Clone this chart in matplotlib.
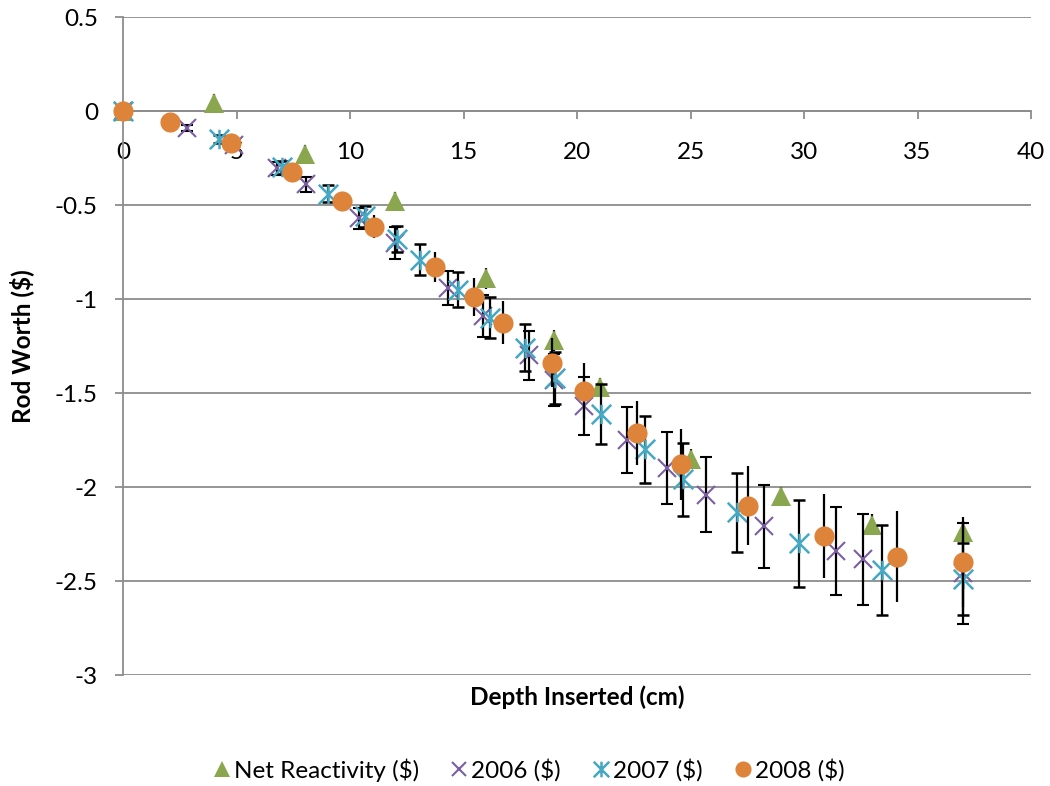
import matplotlib
matplotlib.use("Agg")
import matplotlib.pyplot as plt
from matplotlib.path import Path
from matplotlib.lines import Line2D

plt.rcParams['font.family'] = ['Lato', 'DejaVu Sans']

# ---- data ----
net_x = [0, 4, 8, 12, 16, 19, 21, 25, 29, 33, 37]
net_y = [0, 0.04, -0.23, -0.48, -0.89, -1.22, -1.47, -1.85, -2.05, -2.20, -2.24]
net_err = [0.02, 0.05, 0.05, 0.05, 0.055, 0.055, 0.05, 0.05, 0.05, 0.055, 0.06]

y2006_x = [0, 2.8, 4.9, 6.8, 8.05, 10.4, 12.0, 14.3, 15.85, 17.9, 19.0, 20.3, 22.2,
           23.95, 25.7, 28.25, 31.4, 32.6, 37.0]
y2006_y = [0, -0.09, -0.18, -0.305, -0.39, -0.57, -0.70, -0.94, -1.09, -1.30, -1.43,
           -1.57, -1.75, -1.90, -2.04, -2.21, -2.34, -2.385, -2.46]
y2006_err = [0.01, 0.015, 0.02, 0.035, 0.04, 0.055, 0.085, 0.09, 0.11, 0.13, 0.14,
             0.155, 0.175, 0.19, 0.20, 0.22, 0.235, 0.24, 0.27]

y2007_x = [0, 4.25, 7.0, 9.05, 10.65, 12.05, 13.1, 14.75, 16.15, 17.7, 19.05, 21.05,
           23.0, 24.65, 27.05, 29.8, 33.45, 37.0]
y2007_y = [0, -0.15, -0.30, -0.44, -0.56, -0.68, -0.79, -0.95, -1.10, -1.26, -1.42,
           -1.61, -1.80, -1.96, -2.135, -2.30, -2.44, -2.49]
y2007_err = [0.015, 0.02, 0.035, 0.045, 0.055, 0.07, 0.08, 0.095, 0.11, 0.125, 0.14,
             0.16, 0.18, 0.195, 0.21, 0.23, 0.24, 0.19]

y2008_x = [0, 2.05, 4.75, 7.45, 9.65, 11.05, 13.75, 15.45, 16.75, 18.9, 20.3, 22.65,
           24.6, 27.55, 30.9, 34.1, 37.0]
y2008_y = [0, -0.06, -0.17, -0.325, -0.48, -0.615, -0.83, -0.99, -1.125, -1.34, -1.49,
           -1.715, -1.88, -2.10, -2.26, -2.37, -2.40]
y2008_err = [0.01, 0.01, 0.02, 0.03, 0.04, 0.06, 0.08, 0.10, 0.113, 0.13, 0.15, 0.17,
             0.19, 0.21, 0.225, 0.24, 0.24]

labels = ['Net Reactivity ($)', '2006 ($)', '2007 ($)', '2008 ($)']
xticks = [0, 5, 10, 15, 20, 25, 30, 35, 40]
yticks = [-3, -2.5, -2, -1.5, -1, -0.5, 0, 0.5]
ytick_labels = ['-3', '-2.5', '-2', '-1.5', '-1', '-0.5', '0', '0.5']

# ---- style ----
c_net = '#8aa64f'
c_06 = '#7b5fa0'
c_07 = '#46a8c2'
c_08 = '#de843a'
grid_c = '#8c8c8c'
fs = 17.5

star = Path([(-0.5, -0.5), (0.5, 0.5), (-0.5, 0.5), (0.5, -0.5), (0, -0.5), (0, 0.5)],
            [Path.MOVETO, Path.LINETO, Path.MOVETO, Path.LINETO, Path.MOVETO, Path.LINETO])

fig = plt.figure(figsize=(10.5, 7.86), dpi=100)
ax = fig.add_axes([123 / 1050, 1 - 675 / 786, (1031 - 123) / 1050, (675 - 17) / 786])

ekw = dict(ecolor='black', elinewidth=1.6, capsize=4.5, capthick=1.6, linestyle='none',
           clip_on=False)
series = [
    (net_x, net_y, net_err, dict(marker='^', ms=14, mfc=c_net, mec=c_net, mew=0)),
    (y2006_x, y2006_y, y2006_err, dict(marker='x', ms=13, mfc=c_06, mec=c_06, mew=1.5)),
    (y2007_x, y2007_y, y2007_err, dict(marker=star, ms=14, mfc=c_07, mec=c_07, mew=1.8)),
    (y2008_x, y2008_y, y2008_err, dict(marker='o', ms=14.5, mfc=c_08, mec=c_08, mew=0)),
]
for i, (xs, ys, es, mk) in enumerate(series):
    ax.errorbar(xs, ys, yerr=es, zorder=3 + i, **ekw, **mk)

ax.set_xlim(0, 40)
ax.set_ylim(-3, 0.5)
ax.set_xticks(xticks)
ax.set_xticklabels([str(t) for t in xticks])
ax.set_yticks(yticks)
ax.set_yticklabels(ytick_labels)

ax.spines['top'].set_visible(False)
ax.spines['right'].set_visible(False)
ax.spines['bottom'].set_position(('data', 0))
for s in ('left', 'bottom'):
    ax.spines[s].set_color(grid_c)
    ax.spines[s].set_linewidth(1.3)
ax.yaxis.grid(True, color=grid_c, linewidth=1.3)
ax.set_axisbelow(True)
ax.tick_params(axis='y', direction='out', length=6, width=1.3, color=grid_c,
               labelsize=fs, pad=12)
ax.tick_params(axis='x', direction='out', length=6, width=1.3, color=grid_c,
               labelsize=fs, pad=16)

fig.text((123 + 1031) / 2 / 1050, 1 - 697 / 786, 'Depth Inserted (cm)', ha='center',
         va='center', fontsize=fs, fontweight='bold')
fig.text(22 / 1050, 1 - 346 / 786, 'Rod Worth ($)', ha='center', va='center',
         rotation=90, fontsize=fs, fontweight='bold')

handles = [Line2D([], [], linestyle='none', **mk) for (_, _, _, mk) in series]
for h in handles:
    h.set_markersize(h.get_markersize() * 0.8)
fig.legend(handles, labels, loc='center', bbox_to_anchor=(529 / 1050, 1 - 770 / 786),
           ncol=4, frameon=False, fontsize=fs, handlelength=0.7, handletextpad=0.15,
           columnspacing=1.3, numpoints=1)

fig.savefig('out.png', dpi=100)
